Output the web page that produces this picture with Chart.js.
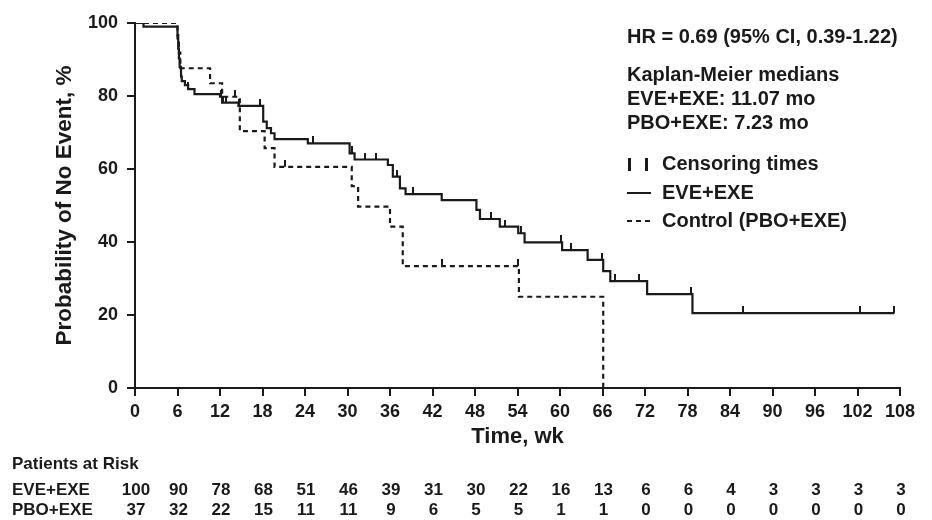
<!DOCTYPE html>
<html>
<head>
<meta charset="utf-8">
<script src="https://cdn.jsdelivr.net/npm/chart.js@4.4.1/dist/chart.umd.min.js"></script>
<style>
  html, body { margin: 0; padding: 0; background: #fff; }
  #wrap { width: 932px; height: 520px; }
</style>
</head>
<body>
<div id="wrap"><canvas id="km" width="932" height="520"></canvas></div>
<script>
// x ticks (weeks) and y ticks (%)
const weekTicks = [0, 6, 12, 18, 24, 30, 36, 42, 48, 54, 60, 66, 72, 78, 84, 90, 96, 102, 108];
const probTicks = [0, 20, 40, 60, 80, 100];

// EVE+EXE Kaplan-Meier steps (time in weeks, % event-free after that time)
const eveTimes = [0, 1.2, 6.0, 6.1, 6.2, 6.3, 6.5, 6.6, 7.05, 7.5, 8.4, 12.0, 12.3, 14.6, 18.1, 18.6, 19.2, 19.7,
  24.4, 30.3, 31.0, 35.7, 36.4, 37.4, 38.2, 43.3, 48.2, 48.7, 51.5, 54.1, 55.0, 60.3, 63.9, 66.1, 67.1,
  72.3, 78.7, 107.2];
const eveSurv = [100, 99, 96.7, 93, 90.3, 88, 85.3, 84.1, 83, 81.9, 80.5, 79.8, 78.2, 77.3, 73, 71.2, 69.8, 68.2,
  67.0, 64.3, 62.6, 61.1, 57.9, 54.7, 53.1, 51.5, 48.8, 46.3, 44.2, 42.4, 39.9, 37.8, 35.1, 32.0, 29.3,
  25.7, 20.5, 20.5];
const eveCensor = [0.2, 7.5, 12.1, 12.4, 12.9, 14.7, 17.6, 25.1, 30.6, 32.4, 34.0, 37.0, 39.3, 50.3, 52.3,
  54.5, 60.2, 61.5, 65.9, 67.7, 71.2, 78.5, 85.9, 102.3, 107.2];

// Control (PBO+EXE)
const pboTimes = [0, 6.0, 6.2, 6.4, 10.6, 12.3, 14.8, 18.3, 19.7, 30.6, 31.5, 36.0, 37.8, 54.2, 66.1];
const pboSurv = [100, 94.6, 91.9, 87.6, 83.5, 79.8, 70.4, 65.7, 60.6, 55.3, 49.7, 44.2, 33.4, 25.0, 0];
const pboCensor = [2.4, 14.1, 21.2, 43.3, 54.0];

// patients at risk at each week tick
const riskGroups = ["EVE+EXE", "PBO+EXE"];
const eveRisk = [100, 90, 78, 68, 51, 46, 39, 31, 30, 22, 16, 13, 6, 6, 4, 3, 3, 3, 3];
const pboRisk = [37, 32, 22, 15, 11, 11, 9, 6, 5, 5, 1, 1, 0, 0, 0, 0, 0, 0, 0];

const hrText = "HR = 0.69 (95% CI, 0.39-1.22)";
const medianLines = ["Kaplan-Meier medians", "EVE+EXE: 11.07 mo", "PBO+EXE: 7.23 mo"];
const legendLabels = ["Censoring times", "EVE+EXE", "Control (PBO+EXE)"];

const ink = "#1a1a1a";
const fam = '"Liberation Sans", Arial, Helvetica, sans-serif';

function stepAt(times, surv, t) {
  let v = surv[0];
  for (let i = 0; i < times.length; i++) {
    if (times[i] <= t) v = surv[i];
  }
  return v;
}

// small tick mark drawn above the curve
function censorMark() {
  const c = document.createElement("canvas");
  c.width = 2;
  c.height = 14;
  const g = c.getContext("2d");
  g.fillStyle = ink;
  g.fillRect(0, 0, 2, 7);
  return c;
}
const mark = censorMark();

const annot = {
  id: "annot",
  afterDraw(chart) {
    const ctx = chart.ctx;
    const xs = chart.scales.x;
    ctx.save();
    ctx.fillStyle = ink;
    ctx.strokeStyle = ink;
    ctx.textBaseline = "middle";
    ctx.textAlign = "left";

    ctx.font = "bold 20px " + fam;
    const tx = 627;
    ctx.fillText(hrText, tx, 37);
    ctx.fillText(medianLines[0], tx, 75);
    ctx.fillText(medianLines[1], tx, 99);
    ctx.fillText(medianLines[2], tx, 123);

    // legend
    ctx.fillRect(628, 158, 3, 13);
    ctx.fillRect(645, 158, 3, 13);
    ctx.fillText(legendLabels[0], 662, 164);

    ctx.lineWidth = 2;
    ctx.beginPath();
    ctx.moveTo(627, 193);
    ctx.lineTo(651, 193);
    ctx.stroke();
    ctx.fillText(legendLabels[1], 662, 193);

    ctx.setLineDash([5, 4]);
    ctx.beginPath();
    ctx.moveTo(627, 221);
    ctx.lineTo(651, 221);
    ctx.stroke();
    ctx.setLineDash([]);
    ctx.fillText(legendLabels[2], 662, 221);

    // patients at risk table
    ctx.font = "bold 17px " + fam;
    ctx.fillText("Patients at Risk", 12, 464);
    ctx.fillText(riskGroups[0], 12, 490);
    ctx.fillText(riskGroups[1], 12, 510);
    ctx.textAlign = "center";
    weekTicks.forEach((w, i) => {
      const px = xs.getPixelForValue(w) + 1;
      ctx.fillText(String(eveRisk[i]), px, 490);
      ctx.fillText(String(pboRisk[i]), px, 510);
    });
    ctx.restore();
  }
};

Chart.defaults.font.family = fam;
Chart.defaults.color = ink;

new Chart(document.getElementById("km"), {
  type: "line",
  data: {
    datasets: [
      {
        label: "EVE+EXE",
        data: eveTimes.map((t, i) => ({ x: t, y: eveSurv[i] })),
        borderColor: ink,
        borderWidth: 2.2,
        stepped: "before",
        pointRadius: 0,
        fill: false
      },
      {
        label: "Control (PBO+EXE)",
        data: pboTimes.map((t, i) => ({ x: t, y: pboSurv[i] })),
        borderColor: ink,
        borderWidth: 2.2,
        borderDash: [5, 4],
        stepped: "before",
        pointRadius: 0,
        fill: false
      },
      {
        type: "scatter",
        label: "EVE censored",
        data: eveCensor.map(t => ({ x: t, y: stepAt(eveTimes, eveSurv, t) })),
        pointStyle: mark,
        pointRadius: 7,
        showLine: false
      },
      {
        type: "scatter",
        label: "PBO censored",
        data: pboCensor.map(t => ({ x: t, y: stepAt(pboTimes, pboSurv, t) })),
        pointStyle: mark,
        pointRadius: 7,
        showLine: false
      }
    ]
  },
  options: {
    responsive: false,
    devicePixelRatio: 1,
    animation: false,
    layout: { padding: { left: 51, top: 23, right: 32, bottom: 70 } },
    plugins: {
      legend: { display: false },
      tooltip: { enabled: false }
    },
    scales: {
      x: {
        type: "linear",
        min: 0,
        max: 108,
        afterBuildTicks: s => { s.ticks = weekTicks.map(v => ({ value: v })); },
        afterFit: s => { s.height = 62; },
        ticks: { font: { size: 18, weight: "bold" }, color: ink, padding: 5, maxRotation: 0, autoSkip: false },
        grid: { drawOnChartArea: false, drawTicks: true, tickLength: 8, color: ink, lineWidth: 2 },
        border: { display: true, color: ink, width: 2 },
        title: { display: true, text: "Time, wk", font: { size: 22, weight: "bold" }, color: ink, padding: 0 }
      },
      y: {
        type: "linear",
        min: 0,
        max: 100,
        afterBuildTicks: s => { s.ticks = probTicks.map(v => ({ value: v })); },
        afterFit: s => { s.width = 84; },
        ticks: { font: { size: 18, weight: "bold" }, color: ink, padding: 9 },
        grid: { drawOnChartArea: false, drawTicks: true, tickLength: 8, color: ink, lineWidth: 2 },
        border: { display: true, color: ink, width: 2 },
        title: { display: true, text: "Probability of No Event, %", font: { size: 22.5, weight: "bold" }, color: ink, padding: 0 }
      }
    }
  },
  plugins: [annot]
});
</script>
</body>
</html>
